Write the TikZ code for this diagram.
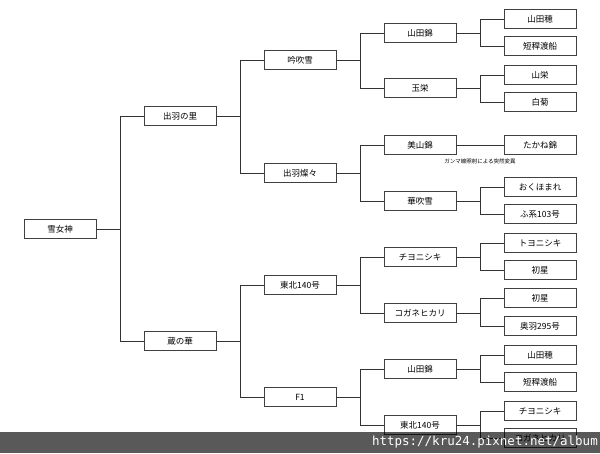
\documentclass[tikz,border=0pt]{standalone}
\usepackage{fontspec}
\setmainfont{Noto Sans CJK JP}
\newfontfamily\wmfont{DejaVu Sans Mono}
\usetikzlibrary{positioning}
\tikzset{ %
  ,every node/.style={font=\fontsize{8.5}{10}\selectfont}
  ,brd/.style={draw=black!75, fill=white, inner sep=0, minimum width=72pt, minimum height=19pt, line width=0.6pt}
  ,link/.style={draw=black!80, line width=0.6pt}
  ,note/.style={inner sep=0, font=\fontsize{5.5}{6}\selectfont}
}
\newcommand{\kid}[2]{\draw[link] (#1.east) -- ++(24,0) |- (#2.west);}
\begin{document}
\begin{tikzpicture}[x=1pt, y=-1pt]
  \useasboundingbox (0,0) rectangle (600,453);
  \fill[white] (0,0) rectangle (600,453);
  % level 0 and 1
  \node[brd] (yuki) at (60,229) {雪女神};
  \node[brd] (dewa) at (180,116) {出羽の里};
  \node[brd] (kura) at (180,341) {蔵の華};
  % level 2
  \node[brd] (gin) at (300,60) {吟吹雪};
  \node[brd] (san) at (300,173) {出羽燦々};
  \node[brd] (toh) at (300,285) {東北140号};
  \node[brd] (fone) at (300,397) {F1};
  % level 3
  \node[brd] (yamaA) at (420,33) {山田錦};
  \node[brd] (tama) at (420,88) {玉栄};
  \node[brd] (miya) at (420,145) {美山錦};
  \node[brd] (hana) at (420,201) {華吹雪};
  \node[brd] (chiyoA) at (420,257) {チヨニシキ};
  \node[brd] (koga) at (420,313) {コガネヒカリ};
  \node[brd] (yamaB) at (420,369) {山田錦};
  \node[brd] (tohB) at (420,425) {東北140号};
  % level 4
  \node[brd] (hoA) at (540,19) {山田穂};
  \node[brd] (tanA) at (540,46) {短稈渡船};
  \node[brd] (sanei) at (540,75) {山栄};
  \node[brd] (shira) at (540,102) {白菊};
  \node[brd] (taka) at (540,145) {たかね錦};
  \node[brd] (oku) at (540,187) {おくほまれ};
  \node[brd] (fu) at (540,214) {ふ系103号};
  \node[brd] (toyo) at (540,243) {トヨニシキ};
  \node[brd] (hatsA) at (540,270) {初星};
  \node[brd] (hatsB) at (540,298) {初星};
  \node[brd] (ou) at (540,326) {奥羽295号};
  \node[brd] (hoB) at (540,355) {山田穂};
  \node[brd] (tanB) at (540,382) {短稈渡船};
  \node[brd] (chiyoB) at (540,411) {チヨニシキ};
  \node[brd] (kogaB) at (540,438) {コガネヒカリ};
  \node[note] (gamma) at (480,161) {ガンマ線照射による突然変異};
  % connectors
  \kid{yuki}{dewa} \kid{yuki}{kura}
  \kid{dewa}{gin} \kid{dewa}{san} \kid{kura}{toh} \kid{kura}{fone}
  \kid{gin}{yamaA} \kid{gin}{tama} \kid{san}{miya} \kid{san}{hana}
  \kid{toh}{chiyoA} \kid{toh}{koga} \kid{fone}{yamaB} \kid{fone}{tohB}
  \kid{yamaA}{hoA} \kid{yamaA}{tanA} \kid{tama}{sanei} \kid{tama}{shira}
  \draw[link] (miya) -- (taka);
  \kid{hana}{oku} \kid{hana}{fu} \kid{chiyoA}{toyo} \kid{chiyoA}{hatsA}
  \kid{koga}{hatsB} \kid{koga}{ou} \kid{yamaB}{hoB} \kid{yamaB}{tanB}
  \kid{tohB}{chiyoB} \kid{tohB}{kogaB}
  % watermark band
  \fill[black, opacity=0.65] (0,432) rectangle (600,453);
  \node[anchor=east, inner sep=0, text=white, font=\wmfont\fontsize{12.5}{13}\selectfont] (wm) at (598,442.5) {https://kru24.pixnet.net/album};
\end{tikzpicture}
\end{document}
